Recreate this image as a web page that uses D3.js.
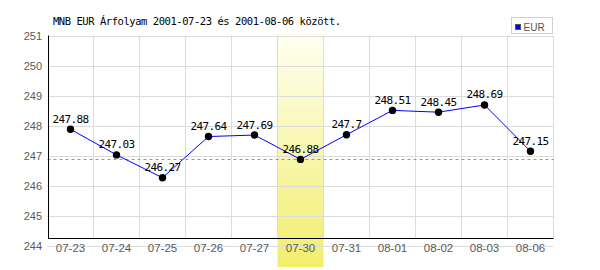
<!DOCTYPE html>
<html>
<head>
<meta charset="utf-8">
<script src="https://cdn.jsdelivr.net/npm/d3@7"></script>
<style>
  body { margin: 0; background: #fff; }
</style>
</head>
<body>
<div id="chart"></div>
<script>
// data
const dates = ['07-23', '07-24', '07-25', '07-26', '07-27', '07-30', '07-31', '08-01', '08-02', '08-03', '08-06'];
const eurValues = [247.88, 247.03, 246.27, 247.64, 247.69, 246.88, 247.7, 248.51, 248.45, 248.69, 247.15];
const yTicks = [244, 245, 246, 247, 248, 249, 250, 251];
const highlightDate = '07-30';
const refValue = 246.88;
const seriesName = 'EUR';
const title = 'MNB EUR Árfolyam 2001-07-23 és 2001-08-06 között.';

const width = 600;
const height = 270;

const svg = d3.select('#chart')
    .append('svg')
    .attr('width', width)
    .attr('height', height);

// scales
const x = d3.scaleBand()
    .domain(dates)
    .range([47.5, 553.5]);

const y = d3.scaleLinear()
    .domain([244, 251])
    .range([246, 35.5]);

const axisY = y(244) - 8; // bottom black line sits above the 244 grid line

// gradient for the highlighted day
const defs = svg.append('defs');
const grad = defs.append('linearGradient')
    .attr('id', 'hl')
    .attr('x1', 0).attr('y1', 0).attr('x2', 0).attr('y2', 1);
grad.append('stop').attr('offset', '0%').attr('stop-color', '#fffff2');
grad.append('stop').attr('offset', '100%').attr('stop-color', '#f1ee6c');

// highlight band
svg.append('rect')
    .attr('x', x(highlightDate))
    .attr('y', y(251) - 2)
    .attr('width', x.bandwidth())
    .attr('height', height - y(251) - 1)
    .attr('fill', 'url(#hl)');

// grid lines
svg.append('g')
    .selectAll('line')
    .data(yTicks)
    .join('line')
    .attr('x1', x.range()[0])
    .attr('x2', x.range()[1])
    .attr('y1', d => Math.round(y(d)) + 0.5)
    .attr('y2', d => Math.round(y(d)) + 0.5)
    .attr('stroke', '#dcdcdc');

svg.append('g')
    .selectAll('line')
    .data(dates.slice(1).map(d => x(d)).concat([x.range()[1]]))
    .join('line')
    .attr('x1', d => Math.round(d) - 0.5)
    .attr('x2', d => Math.round(d) - 0.5)
    .attr('y1', y(251))
    .attr('y2', axisY)
    .attr('stroke', '#dcdcdc');

// reference dashed line
svg.append('line')
    .attr('x1', x.range()[0])
    .attr('x2', x.range()[1])
    .attr('y1', Math.round(y(refValue)) + 0.5)
    .attr('y2', Math.round(y(refValue)) + 0.5)
    .attr('stroke', '#8888ff')
    .attr('stroke-dasharray', '3,3');

// axis lines
svg.append('line')
    .attr('x1', 48.5).attr('x2', 48.5)
    .attr('y1', y(251)).attr('y2', axisY)
    .attr('stroke', '#000');
svg.append('line')
    .attr('x1', 48).attr('x2', x.range()[1])
    .attr('y1', Math.round(axisY) + 0.5).attr('y2', Math.round(axisY) + 0.5)
    .attr('stroke', '#000');

// tick labels
svg.append('g')
    .selectAll('text')
    .data(yTicks)
    .join('text')
    .attr('x', 42)
    .attr('y', d => y(d) + 4)
    .attr('text-anchor', 'end')
    .attr('font-family', 'Liberation Sans, Arial, sans-serif')
    .attr('font-size', '11px')
    .attr('fill', '#5a5a5a')
    .text(d => d);

svg.append('g')
    .selectAll('text')
    .data(dates)
    .join('text')
    .attr('x', d => x(d) + x.bandwidth() / 2)
    .attr('y', y(244) + 5.5)
    .attr('text-anchor', 'middle')
    .attr('font-family', 'Liberation Sans, Arial, sans-serif')
    .attr('font-size', '11.5px')
    .attr('fill', '#5a5a5a')
    .text(d => d);

// series line
const line = d3.line()
    .x((d, i) => x(dates[i]) + x.bandwidth() / 2)
    .y(d => y(d));

svg.append('path')
    .datum(eurValues)
    .attr('d', line)
    .attr('fill', 'none')
    .attr('stroke', '#0000ff')
    .attr('stroke-width', 1);

// points
svg.append('g')
    .selectAll('circle')
    .data(eurValues)
    .join('circle')
    .attr('cx', (d, i) => x(dates[i]) + x.bandwidth() / 2)
    .attr('cy', d => y(d))
    .attr('r', 3.7)
    .attr('fill', '#000');

// value labels
svg.append('g')
    .selectAll('text')
    .data(eurValues)
    .join('text')
    .attr('x', (d, i) => x(dates[i]) + x.bandwidth() / 2)
    .attr('y', d => y(d) - 6.5)
    .attr('text-anchor', 'middle')
    .attr('font-family', 'DejaVu Sans Mono, monospace')
    .attr('font-size', '11px')
    .attr('letter-spacing', '-0.6px')
    .attr('fill', '#000')
    .text(d => d);

// title
svg.append('text')
    .attr('x', 53)
    .attr('y', 25)
    .attr('font-family', 'DejaVu Sans Mono, monospace')
    .attr('font-size', '10.5px')
    .attr('letter-spacing', '-0.45px')
    .attr('fill', '#000')
    .text(title);

// legend
const legend = svg.append('g');
legend.append('rect')
    .attr('x', 511.5).attr('y', 17.5)
    .attr('width', 41).attr('height', 16)
    .attr('fill', '#fff')
    .attr('stroke', '#d0d0d0');
legend.append('rect')
    .attr('x', 515.5).attr('y', 24.5)
    .attr('width', 5).attr('height', 5)
    .attr('fill', '#0000ff')
    .attr('stroke', '#555');
legend.append('text')
    .attr('x', 523.5)
    .attr('y', 31)
    .attr('font-family', 'Liberation Sans, Arial, sans-serif')
    .attr('font-size', '10px')
    .attr('fill', '#555')
    .text(seriesName);
</script>
</body>
</html>
